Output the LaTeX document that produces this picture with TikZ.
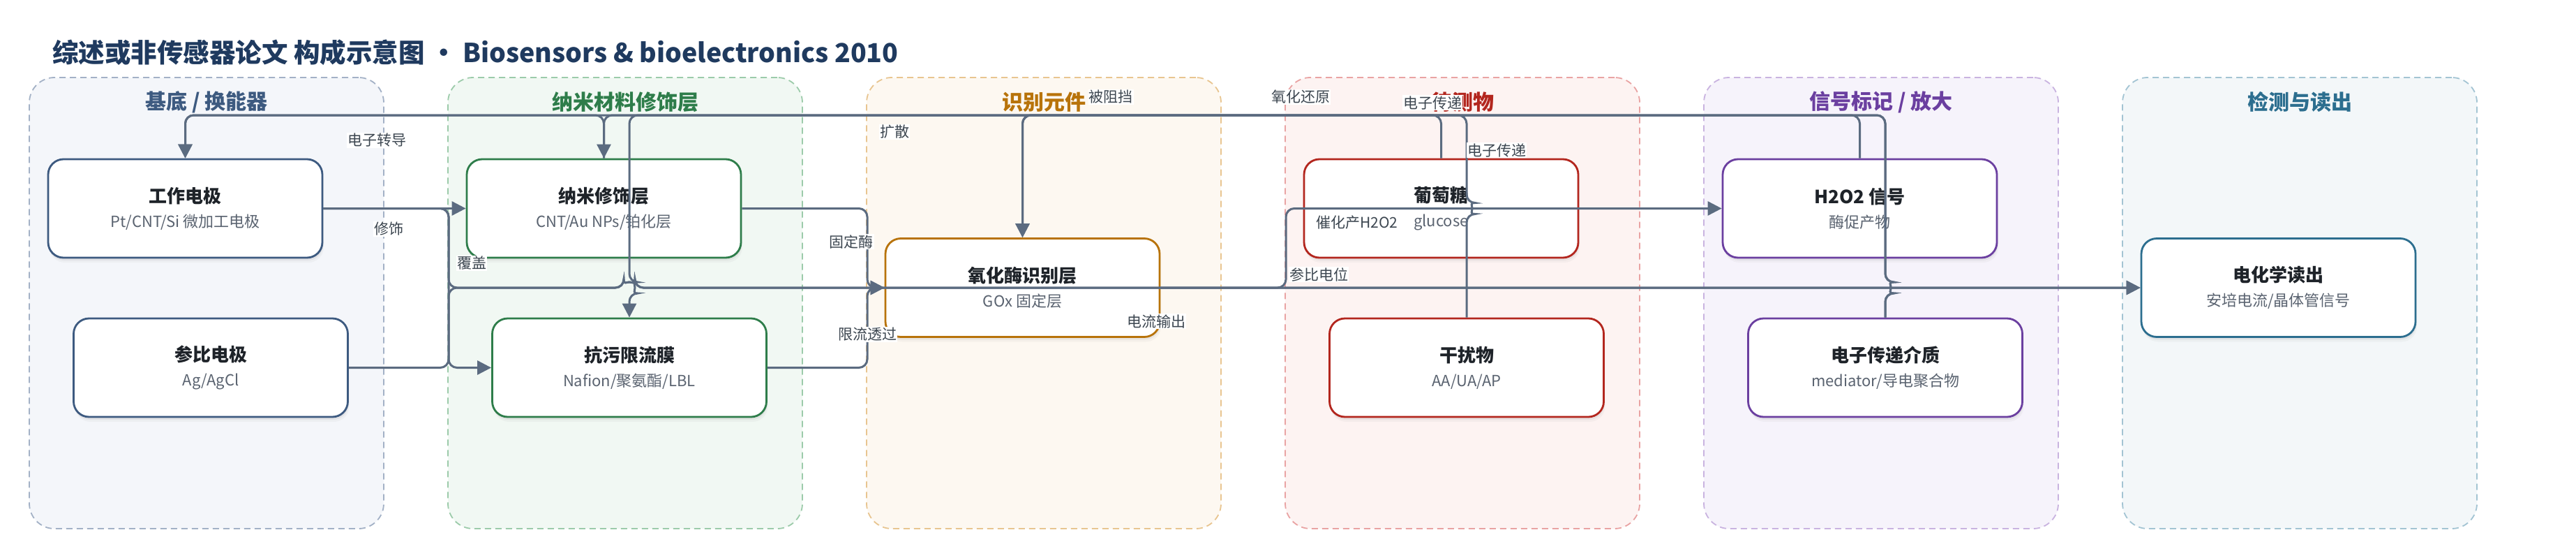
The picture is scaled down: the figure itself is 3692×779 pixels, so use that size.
\documentclass[tikz,border=0pt]{standalone}
\usepackage{fontspec}
\setmainfont{Noto Sans CJK SC}
\usetikzlibrary{arrows.meta,shadows,calc}
\definecolor{edgec}{HTML}{5B6B80}
\definecolor{titlec}{HTML}{1F3A5F}
\definecolor{ntc}{HTML}{1E2329}
\definecolor{nsc}{HTML}{5A6370}
\definecolor{lblc}{HTML}{3C4650}
\definecolor{gab}{HTML}{A3B1C6}\definecolor{gaf}{HTML}{F4F6FA}\definecolor{gat}{HTML}{3D5A80}
\definecolor{gbb}{HTML}{9CCBAA}\definecolor{gbf}{HTML}{F1F8F3}\definecolor{gbt}{HTML}{2E7D4A}
\definecolor{gcb}{HTML}{E8C590}\definecolor{gcf}{HTML}{FDF8F1}\definecolor{gct}{HTML}{B8730A}
\definecolor{gdb}{HTML}{E9A3A3}\definecolor{gdf}{HTML}{FDF3F2}\definecolor{gdt}{HTML}{B3261E}
\definecolor{geb}{HTML}{C9B3E0}\definecolor{gef}{HTML}{F6F3FB}\definecolor{get}{HTML}{6B3FA0}
\definecolor{gfb}{HTML}{A3C4D3}\definecolor{gff}{HTML}{F3F7F9}\definecolor{gft}{HTML}{2C6E8F}
\newcommand\nodetitle[1]{{\fontsize{26}{35}\selectfont\bfseries\color{ntc}#1}}
\tikzset{
  grp/.style 2 args={draw=#1, fill=#2, dash pattern=on 9pt off 6pt, line width=1.8pt,
    rounded corners=36pt, minimum width=508pt, minimum height=646pt, inner sep=0pt},
  gtitle/.style={font=\fontsize{30}{34}\selectfont\bfseries, text=#1, inner sep=0pt},
  box/.style={draw=#1, line width=2.8pt, fill=white, rounded corners=22pt,
    minimum width=393pt, minimum height=141pt, inner sep=0pt, align=center,
    font=\fontsize{22}{35}\selectfont, text=nsc,
    drop shadow={shadow xshift=1pt, shadow yshift=-4pt, opacity=.10},
    drop shadow={shadow xshift=2pt, shadow yshift=-7pt, opacity=.06}},
  conn/.style={draw=edgec, line width=3pt, rounded corners=12pt,
    -{Triangle[length=20pt,width=20pt]}},
  lbl/.style={fill=white, text=lblc, font=\fontsize{21}{24}\selectfont, inner sep=1pt}
}
\begin{document}
\begin{tikzpicture}[x=1pt,y=-1pt]
\useasboundingbox (0,0) rectangle (3692,779);
\fill[white] (0,0) rectangle (3692,779);
% title
\node[anchor=west, font=\fontsize{37.5}{42}\selectfont\bfseries, text=titlec, inner sep=0pt] (title) at (75,75)
  {综述或非传感器论文 构成示意图 · Biosensors \& bioelectronics 2010};
% groups
\node[grp={gab}{gaf}] (G1) at (296,434) {};
\node[grp={gbb}{gbf}] (G2) at (896,434) {};
\node[grp={gcb}{gcf}] (G3) at (1496,434) {};
\node[grp={gdb}{gdf}] (G4) at (2096,434) {};
\node[grp={geb}{gef}] (G5) at (2696,434) {};
\node[grp={gfb}{gff}] (G6) at (3296,434) {};
\node[gtitle=gat] (T1) at (296,146) {基底 / 换能器};
\node[gtitle=gbt] (T2) at (896,146) {纳米材料修饰层};
\node[gtitle=gct] (T3) at (1496,146) {识别元件};
\node[gtitle=gdt] (T4) at (2096,146) {待测物};
\node[gtitle=get] (T5) at (2696,146) {信号标记 / 放大};
\node[gtitle=gft] (T6) at (3296,146) {检测与读出};
% nodes
\node[box=gat] (we) at (265.5,298.5) {\nodetitle{工作电极}\\Pt/CNT/Si 微加工电极};
\node[box=gat] (re) at (302,526.5) {\nodetitle{参比电极}\\Ag/AgCl};
\node[box=gbt] (nm) at (865.5,298.5) {\nodetitle{纳米修饰层}\\CNT/Au NPs/铂化层};
\node[box=gbt] (af) at (902,526.5) {\nodetitle{抗污限流膜}\\Nafion/聚氨酯/LBL};
\node[box=gct] (ox) at (1465.5,412) {\nodetitle{氧化酶识别层}\\GOx 固定层};
\node[box=gdt] (gl) at (2065.5,298.5) {\nodetitle{葡萄糖}\\glucose};
\node[box=gdt] (it) at (2102,526.5) {\nodetitle{干扰物}\\AA/UA/AP};
\node[box=get] (h2) at (2665.5,298.5) {\nodetitle{H2O2 信号}\\酶促产物};
\node[box=get] (md) at (2702,526.5) {\nodetitle{电子传递介质}\\mediator/导电聚合物};
\node[box=gft] (rd) at (3265.5,412) {\nodetitle{电化学读出}\\安培电流/晶体管信号};
% connectors
\draw[conn] (we.east) -- (nm.west);
\draw[conn] (we.east) -| (643,526.5) -- (af.west);
\draw[conn] (we.east) -| (643,412) -- (894,412) arc[start angle=180,end angle=360,radius=8] -- (rd.west);
\draw[conn] (re.east) -| (643,412) -- (894,412) arc[start angle=180,end angle=360,radius=8] -- (rd.west);
\draw[conn] (nm.east) -| (1243,412) -- (ox.west);
\draw[conn] (af.east) -| (1243,412) -- (ox.west);
\draw[conn] (ox.east) -| (1843,298.5) -- (h2.west);
\draw[conn] (nm.north) |- (we.north |- 0,165) -- (we.north);
\draw[conn] (h2.north) |- (nm.north |- 0,165) -- (nm.north);
\draw[conn] (md.north) -- (2702,420) arc[start angle=90,end angle=-90,radius=8] |- (we.north |- 0,165) -- (we.north);
\draw[conn] (md.north) -- (2702,420) arc[start angle=90,end angle=-90,radius=8] |- (ox.north |- 0,165) -- (ox.north);
\draw[conn] (gl.north) |- (ox.north |- 0,165) -- (ox.north);
\draw[conn] (it.north) -- (2102,306.5) arc[start angle=90,end angle=-90,radius=8] |- (af.north |- 0,165) -- (902,404) arc[start angle=-90,end angle=90,radius=8] -- (af.north);
% labels
\node[lbl] (l1) at (540,201) {电子转导};
\node[lbl] (l2) at (557,328) {修饰};
\node[lbl] (l3) at (676,377) {覆盖};
\node[lbl] (l4) at (1220,346) {固定酶};
\node[lbl] (l5) at (1243,479) {限流透过};
\node[lbl] (l6) at (1282,189) {扩散};
\node[lbl] (l7) at (1592,139) {被阻挡};
\node[lbl] (l8) at (1864,139) {氧化还原};
\node[lbl] (l9) at (2053,147) {电子传递};
\node[lbl] (l10) at (2145,215) {电子传递};
\node[lbl] (l11) at (1890,393) {参比电位};
\node[lbl] (l12) at (1945,319) {催化产H2O2};
\node[lbl] (l13) at (1657,460) {电流输出};
\end{tikzpicture}
\end{document}
